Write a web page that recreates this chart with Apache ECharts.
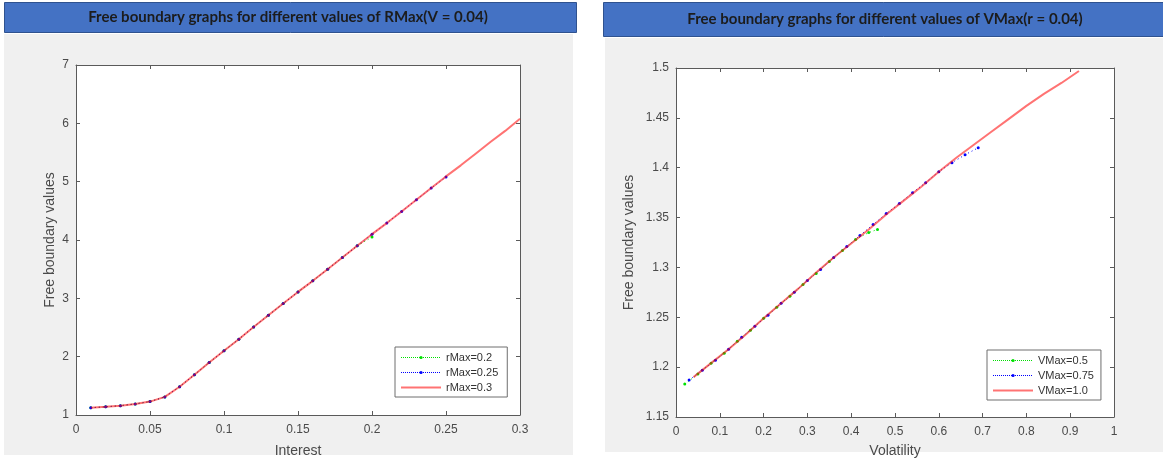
<!DOCTYPE html>
<html><head><meta charset="utf-8">
<script src="https://cdn.jsdelivr.net/npm/echarts@6/dist/echarts.min.js"></script>
<style>html,body{margin:0;padding:0;background:#fff}#c{width:1163px;height:463px}</style>
</head><body><div id="c"></div>
<script>
// ---- Left chart data (Interest vs Free boundary) ----
const leftTitle = 'Free boundary graphs for different values of RMax(V = 0.04)';
const rightTitle = 'Free boundary graphs for different values of VMax(r = 0.04)';
const leftX = [0.01,0.02,0.03,0.04,0.05,0.06,0.07,0.08,0.09,0.10,0.11,0.12,0.13,0.14,0.15,0.16,0.17,0.18,0.19,0.20,0.21,0.22,0.23,0.24,0.25,0.26,0.27,0.28,0.29,0.30];
const rMax03 = [1.125,1.14,1.16,1.19,1.23,1.31,1.485,1.69,1.90,2.10,2.30,2.51,2.71,2.91,3.11,3.30,3.50,3.70,3.90,4.10,4.29,4.49,4.69,4.89,5.09,5.28,5.48,5.68,5.87,6.08];
const rMax025 = [1.125,1.14,1.16,1.19,1.23,1.31,1.485,1.69,1.90,2.10,2.30,2.51,2.71,2.91,3.11,3.30,3.50,3.70,3.90,4.10,4.29,4.49,4.69,4.89,5.08];
const rMax02 = [1.125,1.14,1.16,1.19,1.23,1.31,1.485,1.69,1.90,2.10,2.30,2.51,2.71,2.91,3.11,3.30,3.50,3.70,3.90,4.05];
const leftXTicks = [0,0.05,0.1,0.15,0.2,0.25,0.3];
const leftYTicks = [1,2,3,4,5,6,7];

// ---- Right chart data (Volatility vs Free boundary) ----
const vMax05X = [0.02,0.05,0.08,0.11,0.14,0.17,0.20,0.23,0.26,0.29,0.32,0.35,0.38,0.41,0.44,0.46];
const vMax05 = [1.183,1.193,1.204,1.214,1.226,1.237,1.249,1.260,1.271,1.283,1.294,1.306,1.317,1.328,1.335,1.338];
const vMax075X = [0.03,0.06,0.09,0.12,0.15,0.18,0.21,0.24,0.27,0.30,0.33,0.36,0.39,0.42,0.45,0.48,0.51,0.54,0.57,0.60,0.63,0.66,0.69];
const vMax075 = [1.187,1.197,1.207,1.218,1.230,1.241,1.252,1.264,1.275,1.287,1.298,1.310,1.321,1.332,1.343,1.354,1.364,1.375,1.385,1.396,1.405,1.413,1.420];
const vMax10X = [0.04,0.08,0.12,0.16,0.20,0.24,0.28,0.32,0.36,0.40,0.44,0.48,0.52,0.56,0.60,0.64,0.68,0.72,0.76,0.80,0.84,0.88,0.92];
const vMax10 = [1.190,1.204,1.218,1.233,1.249,1.264,1.279,1.295,1.310,1.324,1.338,1.353,1.367,1.381,1.396,1.410,1.423,1.436,1.449,1.462,1.474,1.485,1.497];
const rightXTicks = [0,0.1,0.2,0.3,0.4,0.5,0.6,0.7,0.8,0.9,1];
const rightYTicks = [1.15,1.2,1.25,1.3,1.35,1.4,1.45,1.5];

const zip = (xs, ys) => ys.map((y, i) => [xs[i], y]);

const axisColor = '#5a5a5a';
const labelColor = '#4a4a4a';
const font = 'Liberation Sans, Arial, sans-serif';
const GREEN = '#00e000', BLUE = '#0000ff', RED = '#ff0000';

function valAxis(kind, grid, ticks, pos, showLabel, name, gap) {
  const a = {
    type: 'value', gridIndex: grid, position: pos,
    min: ticks[0], max: ticks[ticks.length - 1], interval: ticks[1] - ticks[0],
    axisLine: { show: true, onZero: false, lineStyle: { color: axisColor, width: 1 } },
    axisTick: { show: true, inside: true, length: 4, lineStyle: { color: axisColor } },
    splitLine: { show: false },
    axisLabel: { show: showLabel, color: labelColor, fontSize: 12, fontFamily: font, margin: kind === 'x' ? 9 : 7,
      formatter: v => String(Math.round(v * 1000) / 1000) }
  };
  if (name) {
    a.name = name; a.nameLocation = 'middle';
    a.nameTextStyle = { color: labelColor, fontSize: 14, fontFamily: font };
    a.nameGap = gap;
  }
  return a;
}

const chart = echarts.init(document.getElementById('c'));
const dotted = (color) => ({
  type: 'line', showSymbol: true, symbol: 'circle', symbolSize: 3,
  itemStyle: { color: color }, lineStyle: { color: color, width: 1, type: [1, 3] },
  animation: false, z: 3
});
const solid = (color) => ({
  type: 'line', showSymbol: false, symbol: 'none',
  itemStyle: { color: color, opacity: 0.55 }, lineStyle: { color: color, width: 2, opacity: 0.55 },
  animation: false, z: 4
});
const legItem = (name, color, isSolid) => isSolid
  ? { name: name, itemStyle: { opacity: 0 }, lineStyle: { color: color, width: 2, opacity: 0.55, type: 'solid' } }
  : { name: name, itemStyle: { color: color }, lineStyle: { color: color, width: 1, type: 'dotted' } };
const legendBase = {
  orient: 'vertical', backgroundColor: '#fff', borderColor: '#6e6e6e', borderWidth: 1, borderRadius: 0,
  itemGap: 4, itemWidth: 40, itemHeight: 4,
  textStyle: { fontSize: 11, color: '#333', fontFamily: font }
};

chart.setOption({
  animation: false,
  graphic: [
    { type: 'rect', z: -10, shape: { x: 4, y: 34, width: 569, height: 421 }, style: { fill: '#f0f0f0' }, silent: true },
    { type: 'rect', z: -10, shape: { x: 605, y: 38, width: 558, height: 414 }, style: { fill: '#f0f0f0' }, silent: true },
    { type: 'rect', z: 1, shape: { x: 4.5, y: 2.5, width: 572, height: 30 }, style: { fill: '#4472c4', stroke: '#2f528f', lineWidth: 1 } },
    { type: 'rect', z: 1, shape: { x: 603.5, y: 2.5, width: 565, height: 34 }, style: { fill: '#4472c4', stroke: '#2f528f', lineWidth: 1 } },
    { type: 'text', z: 2, style: { x: 288, y: 17, text: leftTitle, textAlign: 'center', textVerticalAlign: 'middle', fill: '#1c1c1c', font: 'bold 15px Lato, Liberation Sans, sans-serif' } },
    { type: 'text', z: 2, style: { x: 885, y: 19, text: rightTitle, textAlign: 'center', textVerticalAlign: 'middle', fill: '#1c1c1c', font: 'bold 15px Lato, Liberation Sans, sans-serif' } }
  ],
  grid: [
    { left: 76, top: 65, width: 444, height: 350, show: true, backgroundColor: '#fff', borderWidth: 0 },
    { left: 676, top: 68, width: 438, height: 350, show: true, backgroundColor: '#fff', borderWidth: 0 }
  ],
  xAxis: [
    valAxis('x', 0, leftXTicks, 'bottom', true, 'Interest', 29),
    valAxis('x', 0, leftXTicks, 'top', false),
    valAxis('x', 1, rightXTicks, 'bottom', true, 'Volatility', 27),
    valAxis('x', 1, rightXTicks, 'top', false)
  ],
  yAxis: [
    valAxis('y', 0, leftYTicks, 'left', true, 'Free boundary values', 19),
    valAxis('y', 0, leftYTicks, 'right', false),
    valAxis('y', 1, rightYTicks, 'left', true, 'Free boundary values', 40),
    valAxis('y', 1, rightYTicks, 'right', false)
  ],
  legend: [
    Object.assign({}, legendBase, { left: 395, top: 347, padding: [5, 9, 4, 5],
      data: [legItem('rMax=0.2', GREEN), legItem('rMax=0.25', BLUE), legItem('rMax=0.3', RED, true)] }),
    Object.assign({}, legendBase, { left: 987, top: 350, padding: [5, 7, 4, 5],
      data: [legItem('VMax=0.5', GREEN), legItem('VMax=0.75', BLUE), legItem('VMax=1.0', RED, true)] })
  ],
  series: [
    Object.assign(dotted(GREEN), { name: 'rMax=0.2', xAxisIndex: 0, yAxisIndex: 0, data: zip(leftX, rMax02) }),
    Object.assign(dotted(BLUE), { name: 'rMax=0.25', xAxisIndex: 0, yAxisIndex: 0, data: zip(leftX, rMax025) }),
    Object.assign(solid(RED), { name: 'rMax=0.3', xAxisIndex: 0, yAxisIndex: 0, data: zip(leftX, rMax03) }),
    Object.assign(dotted(GREEN), { name: 'VMax=0.5', xAxisIndex: 2, yAxisIndex: 2, data: zip(vMax05X, vMax05) }),
    Object.assign(dotted(BLUE), { name: 'VMax=0.75', xAxisIndex: 2, yAxisIndex: 2, data: zip(vMax075X, vMax075) }),
    Object.assign(solid(RED), { name: 'VMax=1.0', xAxisIndex: 2, yAxisIndex: 2, data: zip(vMax10X, vMax10) })
  ]
});
</script>
</body></html>
